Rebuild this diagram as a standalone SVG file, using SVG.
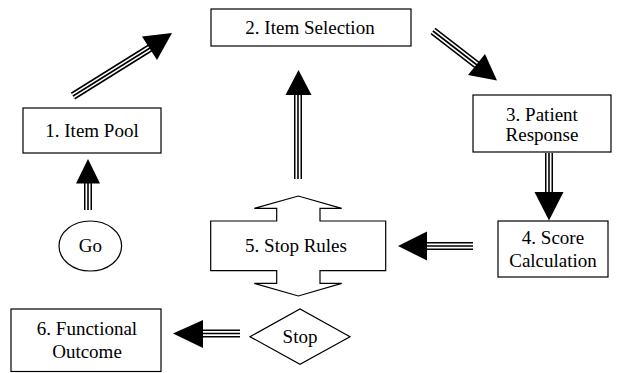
<svg xmlns="http://www.w3.org/2000/svg" width="619" height="373" viewBox="0 0 619 373">
<g id="connectors">
<g fill="none" stroke="#000" stroke-width="8">
<path d="M88,210 L88,183"/><path d="M73,96 L150,48"/><path d="M298,179 L298,94"/><path d="M433,31 L477,65"/><path d="M549,153 L549,193"/><path d="M473,246 L426,246"/><path d="M240,333.5 L202,333.5"/>
</g>
<g fill="none" stroke="#fff" stroke-width="5">
<path d="M88,210 L88,183"/><path d="M73,96 L150,48"/><path d="M298,179 L298,94"/><path d="M433,31 L477,65"/><path d="M549,153 L549,193"/><path d="M473,246 L426,246"/><path d="M240,333.5 L202,333.5"/>
</g>
<g fill="none" stroke="#000" stroke-width="1.6">
<path d="M88,210 L88,183"/><path d="M73,96 L150,48"/><path d="M298,179 L298,94"/><path d="M433,31 L477,65"/><path d="M549,153 L549,193"/><path d="M473,246 L426,246"/><path d="M240,333.5 L202,333.5"/>
</g>
<g fill="#000">
<path d="M76,183.5 L100,183.5 L88,159 Z"/>
<path d="M142,36.5 L157,60 L172,33 Z"/>
<path d="M285.5,95 L311.5,95 L298.5,70 Z"/>
<path d="M468,75 L485,54 L497,80.5 Z"/>
<path d="M534.5,192 L563.5,192 L549,220.5 Z"/>
<path d="M427,231.5 L427,260.5 L398,246 Z"/>
<path d="M203,320 L203,348 L173,333.5 Z"/>
</g>
</g>
<g font-family="Liberation Serif" font-size="19" text-anchor="middle">
<g fill="#fff" stroke="#000" stroke-width="1.2">
<g id="n1"><rect x="23" y="108" width="138" height="45"/><text x="92" y="137" fill="#000" stroke="none">1. Item Pool</text></g>
<g id="n2"><rect x="211" y="9" width="200" height="37"/><text x="310" y="34" fill="#000" stroke="none">2. Item Selection</text></g>
<g id="n3"><rect x="473" y="95" width="138" height="57"/><text x="542" y="121" fill="#000" stroke="none">3. Patient</text><text x="542" y="141" fill="#000" stroke="none">Response</text></g>
<g id="n4"><rect x="498" y="221" width="110" height="56"/><text x="553" y="244" fill="#000" stroke="none">4. Score</text><text x="553" y="266.5" fill="#000" stroke="none">Calculation</text></g>
<g id="n5"><path d="M210.7,221 L276.7,221 L276.7,208.3 L254.3,208.3 L298.3,196 L341.7,208.3 L320,208.3 L320,221 L385.7,221 L385.7,270.7 L320,270.7 L320,283.3 L341.7,283.3 L298.3,296 L254.3,283.3 L276.7,283.3 L276.7,270.7 L210.7,270.7 Z"/><text x="296" y="252" fill="#000" stroke="none">5. Stop Rules</text></g>
<g id="go"><ellipse cx="90.3" cy="246" rx="31.3" ry="25"/><text x="90.3" y="252" fill="#000" stroke="none">Go</text></g>
<g id="stop"><path d="M250,336.7 L300,309 L350,336.7 L300,364.3 Z"/><text x="300" y="343" fill="#000" stroke="none">Stop</text></g>
<g id="n6"><rect x="11" y="309" width="150" height="62.5"/><text x="87" y="334.5" fill="#000" stroke="none">6. Functional</text><text x="87" y="358" fill="#000" stroke="none">Outcome</text></g>
</g>
</g>
</svg>
